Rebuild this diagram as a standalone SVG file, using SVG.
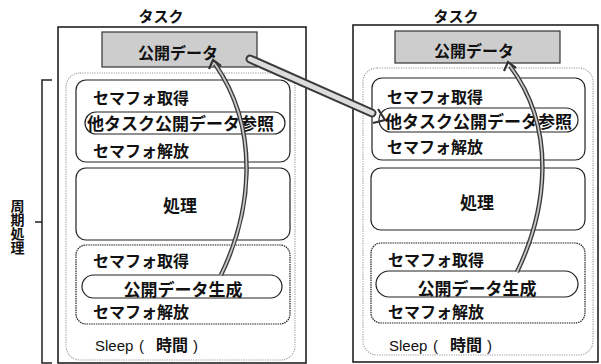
<svg xmlns="http://www.w3.org/2000/svg" width="601" height="364" viewBox="0 0 601 364">
<defs>
<style>
text{font-family:"Noto Sans CJK JP","Liberation Sans",sans-serif;font-weight:bold;fill:#111;font-size:16px}
.big{font-size:17px}
.title{font-size:15px;text-anchor:middle}
.mid{text-anchor:middle}
.vert{font-size:14px;writing-mode:vertical-rl;glyph-orientation-vertical:0}
.lat{font-family:"Liberation Sans",sans-serif;font-weight:normal;font-size:15px}
.outer{fill:#fff;stroke:#222;stroke-width:1.6}
.data{fill:#cdcdcd;stroke:#333;stroke-width:1.2}
.area{fill:none;stroke:#999;stroke-width:1.1;stroke-dasharray:1.2 1.2}
.grp{fill:none;stroke:#222;stroke-width:1.2}
.grpd{fill:none;stroke:#222;stroke-width:1.2;stroke-dasharray:1.5 0.8}
.oval{fill:#fff;stroke:#222;stroke-width:1.2}
.bk{fill:none;stroke:#222;stroke-width:1.5}
.aout{fill:none;stroke:#3a3a3a;stroke-width:4.5}
.ain{fill:none;stroke:#c8c8c8;stroke-width:1.8}
.bout{fill:none;stroke:#3a3a3a;stroke-width:9;stroke-linecap:round}
.bin{fill:none;stroke:#dcdcdc;stroke-width:5;stroke-linecap:round}
.head{fill:none;stroke:#333;stroke-width:2.2;stroke-linejoin:miter}
</style>
</defs>

<g id="bracket">
<path class="bk" d="M52,80 L42,80 L42,363 L52,363"/>
<path class="bk" d="M35,222 L42,222"/>
<text x="17.5" y="199" class="vert">周期処理</text>
</g>

<g id="task-left">
<text x="161" y="22" class="title">タスク</text>
<rect class="outer" x="58" y="27" width="248" height="336"/>
<g id="data-left">
<rect class="data" x="102" y="32" width="155" height="35"/>
<text x="178" y="59" class="mid">公開データ</text>
</g>
<rect id="area-left" class="area" x="66" y="73" width="229" height="287" rx="14"/>
<g id="sem1-left">
<rect class="grp" x="76" y="80" width="214" height="82" rx="10"/>
<text x="93" y="104">セマフォ取得</text>
<rect class="oval" x="85" y="112" width="200" height="22" rx="11"/>
<text x="87" y="130" class="big">他タスク公開データ参照</text>
<text x="93" y="157">セマフォ解放</text>
</g>
<g id="proc-left">
<rect class="grp" x="76" y="168" width="214" height="72" rx="10"/>
<text x="180" y="212" class="mid big">処理</text>
</g>
<g id="sem2-left">
<rect class="grpd" x="76" y="245" width="214" height="79" rx="10"/>
<text x="93" y="267">セマフォ取得</text>
<rect class="oval" x="82" y="275" width="200" height="23" rx="11.5"/>
<text x="183" y="296" class="mid big">公開データ生成</text>
<text x="93" y="318">セマフォ解放</text>
</g>
<text y="351"><tspan x="95" class="lat">Sleep</tspan><tspan x="139" class="lat">(</tspan><tspan x="156">時間</tspan><tspan x="193" class="lat">)</tspan></text>
</g>

<g id="task-right">
<text x="456" y="22" class="title">タスク</text>
<rect class="outer" x="353" y="25" width="245" height="337"/>
<g id="data-right">
<rect class="data" x="395" y="31" width="165" height="32"/>
<text x="474" y="57" class="mid">公開データ</text>
</g>
<rect id="area-right" class="area" x="363" y="68" width="230" height="287" rx="14"/>
<g id="sem1-right">
<rect class="grp" x="372" y="78" width="213" height="82" rx="10"/>
<text x="387" y="103">セマフォ取得</text>
<rect class="oval" x="379" y="108" width="199" height="24" rx="12"/>
<text x="385" y="128" class="big">他タスク公開データ参照</text>
<text x="387" y="153">セマフォ解放</text>
</g>
<g id="proc-right">
<rect class="grp" x="371" y="168" width="214" height="62" rx="10"/>
<text x="477" y="209" class="mid big">処理</text>
</g>
<g id="sem2-right">
<rect class="grpd" x="371" y="243" width="214" height="80" rx="10"/>
<text x="388" y="266">セマフォ取得</text>
<rect class="oval" x="376" y="271" width="202" height="26" rx="13"/>
<text x="477" y="295" class="mid big">公開データ生成</text>
<text x="388" y="318">セマフォ解放</text>
</g>
<text y="351"><tspan x="389" class="lat">Sleep</tspan><tspan x="433" class="lat">(</tspan><tspan x="450">時間</tspan><tspan x="487" class="lat">)</tspan></text>
</g>

<g id="connectors">
<g id="arrow-left">
<path class="aout" d="M221,275 C250,215 262,132 215,64"/>
<path class="ain" d="M221,275 C250,215 262,132 215,64"/>
<path class="head" d="M209,69 L213,60 L221,66"/>
</g>
<g id="arrow-right">
<path class="aout" d="M517,272 C546,212 558,130 510,66"/>
<path class="ain" d="M517,272 C546,212 558,130 510,66"/>
<path class="head" d="M504,71 L508,62 L516,68"/>
</g>
<g id="arrow-cross">
<path class="bout" d="M250,59 L372,113"/>
<path class="bin" d="M250,59 L372,113"/>
<path class="head" d="M373,123 L385,120 L378,109"/>
</g>
</g>
</svg>
